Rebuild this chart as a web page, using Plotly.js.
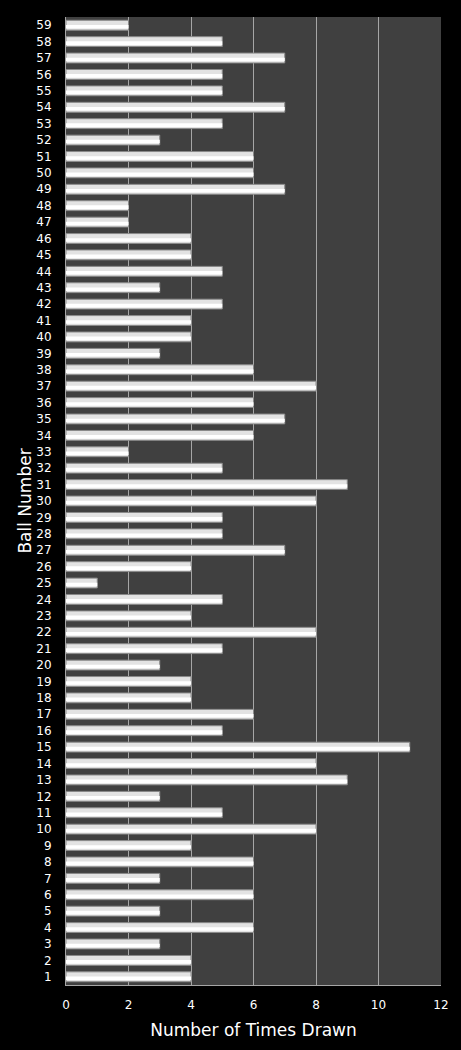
<!DOCTYPE html>
<html><head><meta charset="utf-8">
<script src="https://cdn.plot.ly/plotly-3.0.1.min.js"></script>
<style>html,body{margin:0;padding:0;background:#000;}#chart{width:461px;height:1050px;}</style>
</head><body><div id="chart"></div>
<script>
const balls = [];
for (let i = 1; i <= 59; i++) balls.push(String(i));
const timesDrawn = [4,4,3,6,3,6,3,6,4,8,5,3,9,8,11,5,6,4,4,3,5,8,4,5,1,4,7,5,5,8,9,5,2,6,7,6,8,6,3,4,4,5,3,5,4,4,2,2,7,6,6,3,5,7,5,5,7,5,2];
const xTicks = [0,2,4,6,8,10,12];

const trace = {
  type: 'bar', orientation: 'h',
  y: balls, x: timesDrawn,
  marker: {color: '#e3e3e3', line: {color: '#8a8a8a', width: 1}},
  hoverinfo: 'none'
};
const hl = {
  type: 'bar', orientation: 'h',
  y: balls, x: timesDrawn,
  width: 0.22, offset: -0.2,
  marker: {color: '#ffffff', line: {width: 0}},
  hoverinfo: 'none'
};
const layout = {
  width: 461, height: 1050,
  paper_bgcolor: '#000000', plot_bgcolor: '#404040',
  margin: {l: 66, r: 20, t: 17, b: 65},
  showlegend: false,
  barmode: 'overlay', bargap: 0.4,
  font: {family: 'DejaVu Sans, Verdana, sans-serif', color: '#ffffff', size: 12},
  xaxis: {
    range: [0, 12], tickvals: xTicks, ticktext: xTicks.map(String),
    showgrid: true, gridcolor: '#a6a6a6', gridwidth: 1,
    zeroline: false, showline: true, linecolor: '#a6a6a6',
    ticks: '', ticklabelstandoff: 9, tickfont: {size: 12, color: '#ffffff'},
    title: {text: 'Number of Times Drawn', font: {size: 17, color: '#ffffff'}, standoff: 12}
  },
  yaxis: {
    type: 'category', categoryorder: 'array', categoryarray: balls,
    range: [-0.5, 58.5], tickmode: 'array', tickvals: balls, ticktext: balls,
    showgrid: false, zeroline: false, showline: true, linecolor: '#a6a6a6',
    ticks: '', ticklabelstandoff: 11, tickfont: {size: 12, color: '#ffffff'},
    title: {text: 'Ball Number', font: {size: 17, color: '#ffffff'}, standoff: 0}
  }
};
Plotly.newPlot('chart', [trace, hl], layout, {displayModeBar: false, staticPlot: true});
</script></body></html>
